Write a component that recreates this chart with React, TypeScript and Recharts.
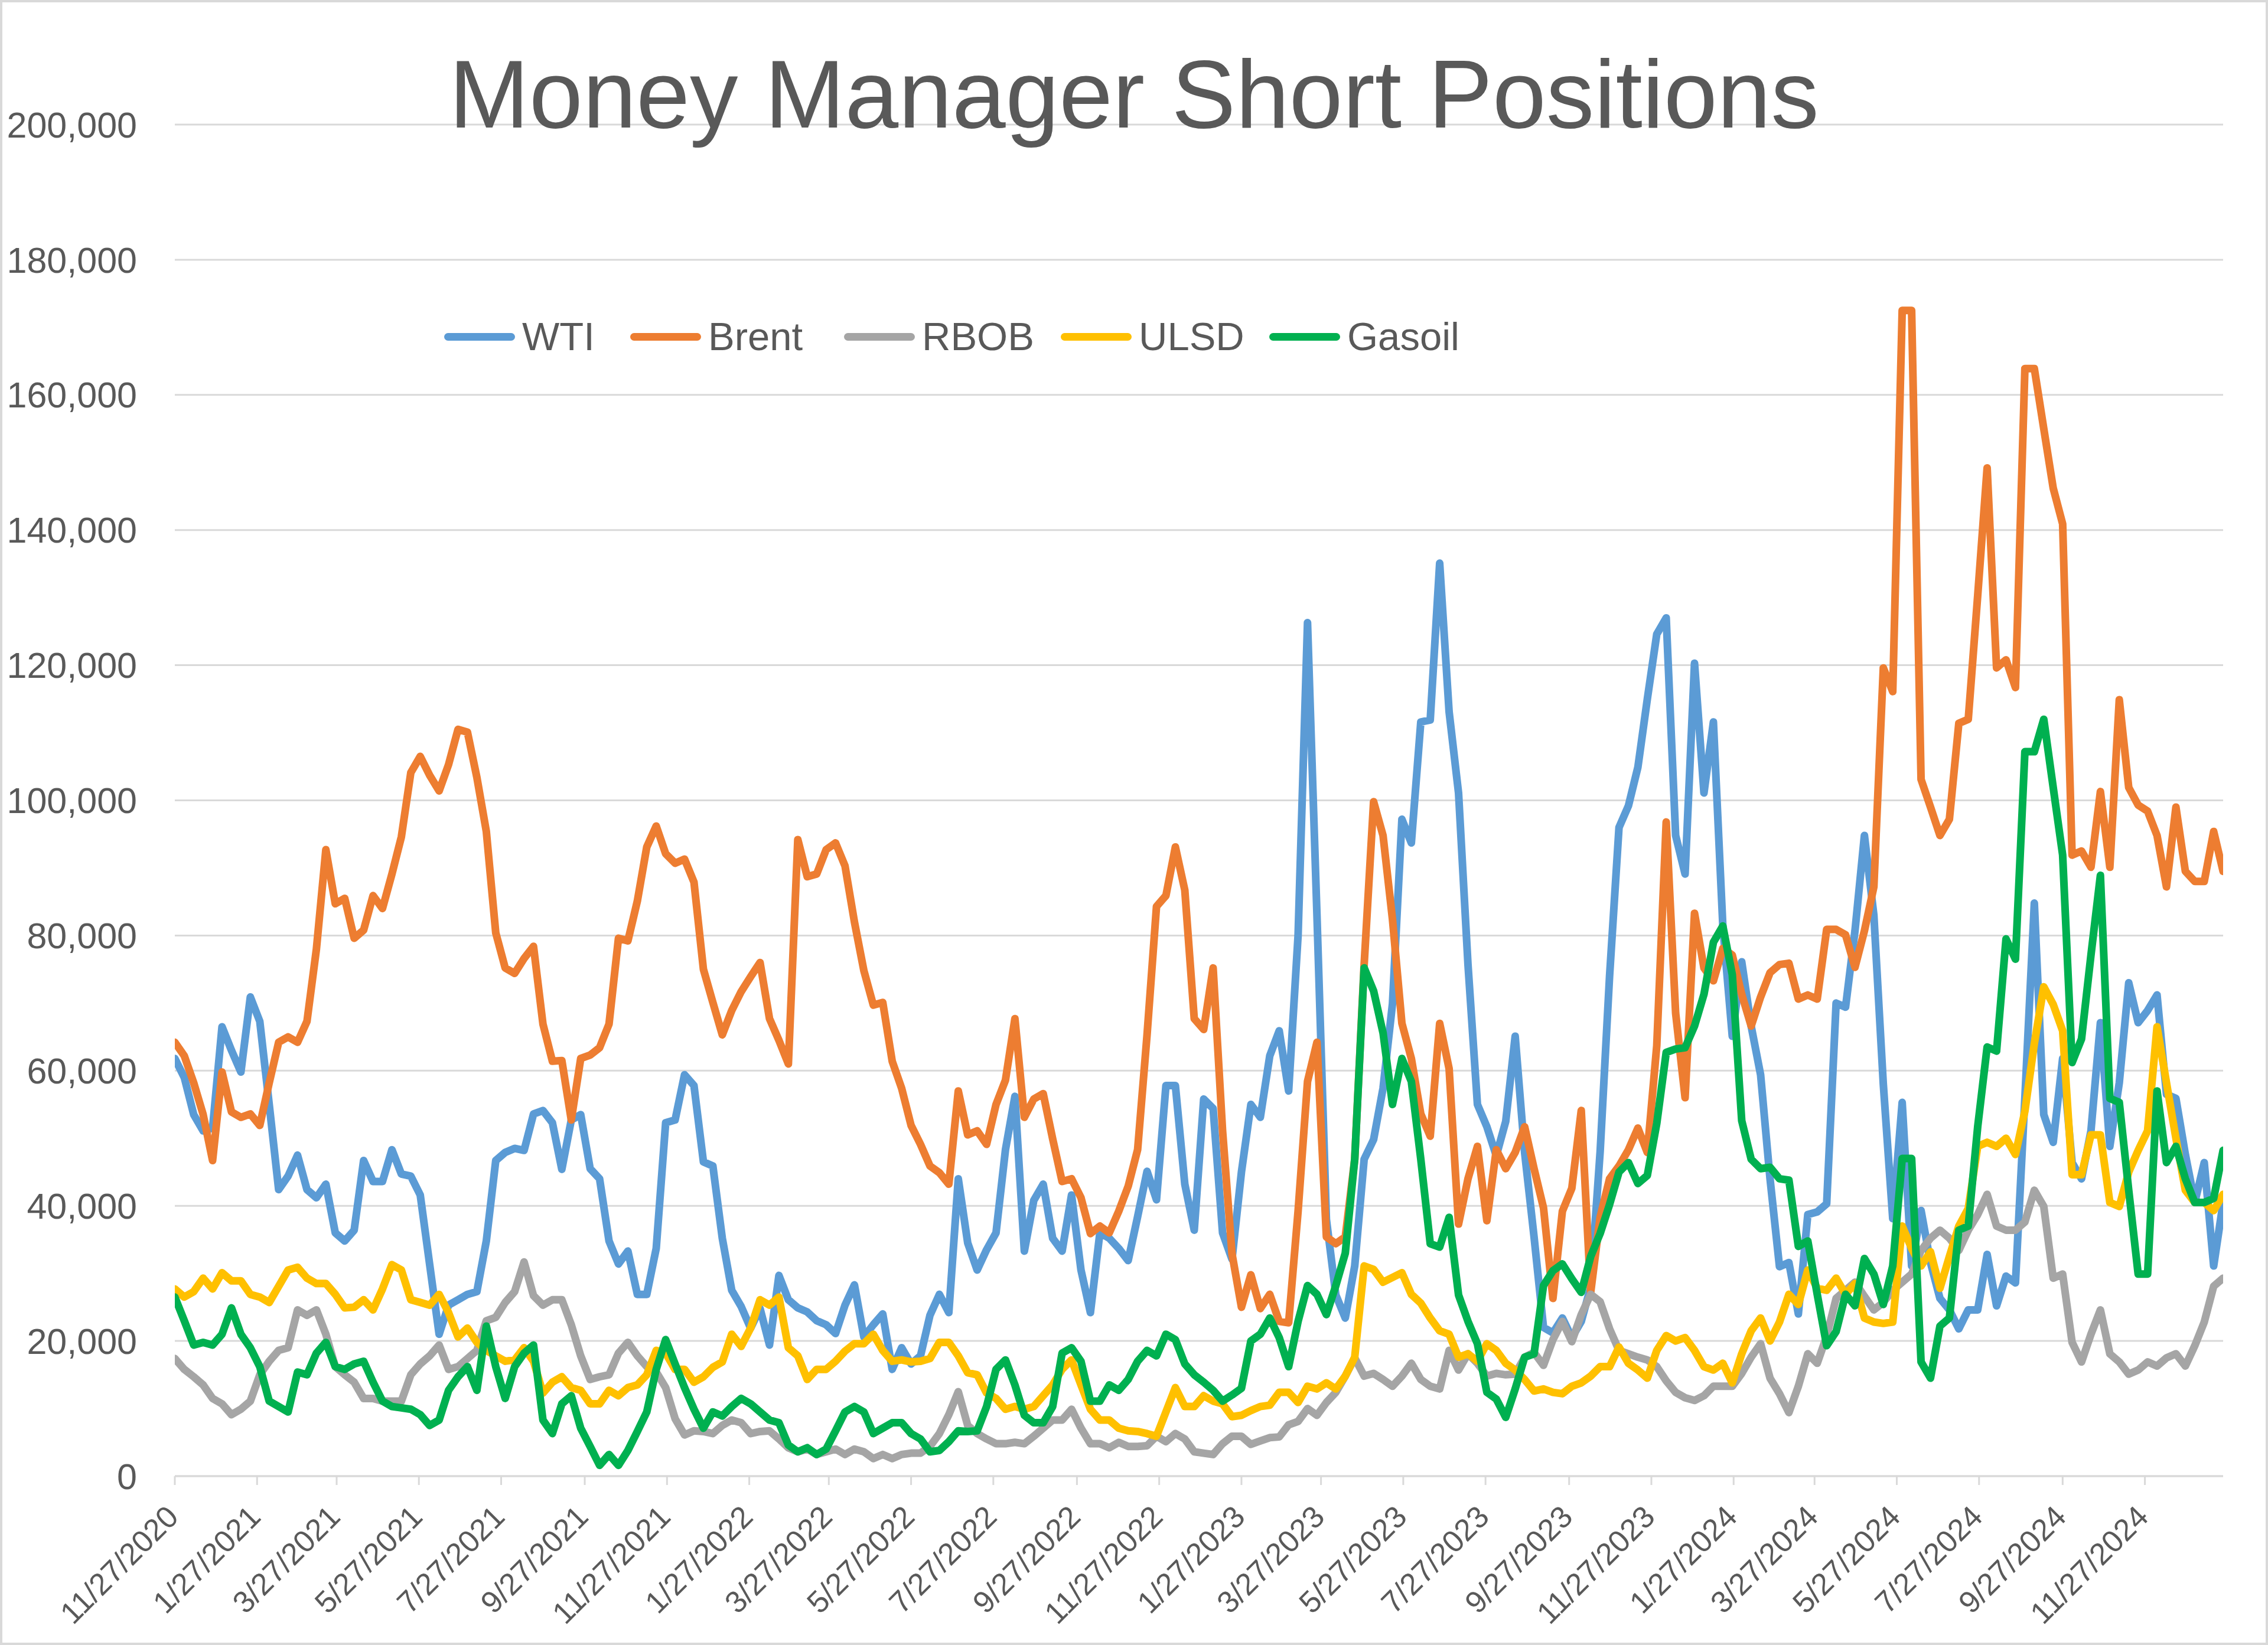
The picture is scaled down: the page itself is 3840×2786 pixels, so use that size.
import { LineChart, Line, XAxis, YAxis, CartesianGrid, Legend } from "recharts";

const FONT = "'Liberation Sans', Arial, sans-serif";
const TEXT_COLOR = "#595959";
const GRID_COLOR = "#D9D9D9";

const TITLE = "Money Manager Short Positions";

// weekly report dates start here
const FIRST_WEEK = "11/27/2020";
const WEEK_COUNT = 218;

const SERIES_NAMES = ["WTI", "Brent", "RBOB", "ULSD", "Gasoil"];
const SERIES_COLORS = ["#5B9BD5", "#ED7D31", "#A5A5A5", "#FFC000", "#00B050"];

const TICK_LABELS = [
  "11/27/2020", "1/27/2021", "3/27/2021", "5/27/2021", "7/27/2021", "9/27/2021",
  "11/27/2021", "1/27/2022", "3/27/2022", "5/27/2022", "7/27/2022", "9/27/2022",
  "11/27/2022", "1/27/2023", "3/27/2023", "5/27/2023", "7/27/2023", "9/27/2023",
  "11/27/2023", "1/27/2024", "3/27/2024", "5/27/2024", "7/27/2024", "9/27/2024",
  "11/27/2024",
];

const Y_TICKS = [0, 20000, 40000, 60000, 80000, 100000, 120000, 140000, 160000, 180000, 200000];

const wti = [
  61800, 59000, 53500, 51100, 51500, 66500, 63000, 59800, 70900, 67300,
  55000, 42400, 44400, 47500, 42400, 41200, 43200, 36000, 34800, 36400,
  46700, 43600, 43600, 48300, 44700, 44400, 41600, 31300, 21000, 25300,
  26100, 26900, 27300, 34800, 46700, 47900, 48500, 48200, 53600, 54100,
  52300, 45400, 52700, 53500, 45500, 44000, 34800, 31400, 33300, 26900,
  26900, 33700, 52300, 52700, 59400, 57800, 46500, 45900, 35200, 27500,
  25100, 21900, 24800, 19400, 29700, 26100, 24900, 24300, 23000, 22400,
  21100, 25300, 28300, 20600, 22400, 24000, 15800, 19000, 16600, 17800,
  23800, 26900, 24200, 44000, 34500, 30500, 33500, 36000, 48300, 56200,
  33300, 40800, 43200, 35200, 33300, 41600, 30500, 24200, 36000, 35200,
  33700, 31900, 38400, 45100, 40900, 57800, 57800, 43200, 36400, 55800,
  54400, 36000, 32100, 45000, 55000, 53100, 62200, 65900, 57000, 80000,
  126300, 83000, 38000, 26800, 23400, 31100, 46900, 49800, 57400, 69900,
  97200, 93700, 111600, 111900, 135100, 113100, 101100, 75700, 55000, 51700,
  47400, 52500, 65100, 47900, 35400, 22000, 21200, 23400, 20500, 22900,
  28000, 48000, 74000, 96000, 99200, 104900, 115000, 124600, 127000, 94800,
  89100, 120300, 101100, 111600, 81400, 65100, 76100, 66600, 59400, 44000,
  31000, 31600, 24000, 38700, 39100, 40300, 70000, 69400, 80700, 94800,
  83000, 58000, 38100, 55300, 31100, 39300, 31600, 26300, 24600, 21800,
  24600, 24600, 32800, 25200, 29600, 28600, 56000, 84800, 53500, 49400,
  61800, 46400, 44000, 51100, 67100, 48800, 58200, 73000, 67100, 68900,
  71200, 56500, 55900, 47600, 40500, 46400, 31100, 40500,
];

const brent = [
  64200, 62200, 58200, 53500, 46700, 59800, 53900, 53100, 53600, 51900,
  58200, 64200, 65000, 64200, 67300, 78000, 92700, 84700, 85500, 79600,
  80800, 85900, 84000, 89100, 94600, 104100, 106500, 103700, 101400, 105300,
  110500, 110100, 103400, 95400, 80400, 75200, 74400, 76600, 78400, 66900,
  61400, 61500, 52700, 61800, 62300, 63400, 66900, 79600, 79200, 85100,
  93100, 96200, 92100, 90700, 91300, 87900, 75000, 70100, 65300, 68900,
  71700, 73900, 76000, 67700, 64500, 61000, 94200, 88700, 89100, 92700,
  93700, 90300, 82000, 74800, 69700, 70100, 61400, 57400, 51900, 49100,
  45900, 44900, 43200, 57000, 50500, 51100, 49100, 55000, 58600, 67700,
  53100, 55800, 56600, 49900, 43600, 44000, 41200, 35900, 37000, 36000,
  39200, 42900, 48300, 65300, 84300, 85900, 93100, 86700, 67700, 66100,
  75200, 51100, 32900, 25000, 29800, 24800, 26900, 22900, 22700, 39200,
  58400, 64200, 35400, 34400, 35400, 46900, 75700, 99800, 94800, 82400,
  67000, 61800, 53600, 50300, 67000, 60300, 37300, 44000, 48800, 37800,
  48300, 45500, 47900, 51700, 45500, 39700, 26300, 39200, 42600, 54100,
  27200, 38300, 44000, 45900, 48300, 51500, 47900, 63700, 96800, 68500,
  56000, 83300, 75200, 73300, 78100, 77100, 71300, 66600, 70900, 74500,
  75700, 75900, 70600, 71200, 70600, 80900, 80900, 80100, 75300, 80700,
  87200, 119600, 116100, 172500, 172500, 103100, 99000, 94800, 97200, 111400,
  112000, 130300, 149200, 119600, 120800, 116700, 163900, 163900, 155000, 146200,
  140900, 91900, 92500, 90100, 101300, 90100, 114900, 101900, 99300, 98400,
  94800, 87200, 99000, 89500, 88000, 88000, 95400, 89500,
];

const rbob = [
  17400, 15800, 14700, 13500, 11500, 10700, 9100, 9900, 11100, 15000,
  17000, 18600, 19000, 24600, 23800, 24600, 21000, 16200, 15000, 13900,
  11500, 11500, 11100, 11100, 11100, 15000, 16600, 17800, 19400, 15800,
  16200, 17400, 18600, 23000, 23500, 25700, 27300, 31700, 26700, 25300,
  26100, 26100, 22400, 17800, 14300, 14700, 15000, 18200, 19800, 17800,
  16200, 15400, 13100, 8500, 6100, 6700, 6600, 6300, 7500, 8300,
  7900, 6300, 6600, 6700, 5500, 4200, 3600, 4000, 3200, 3600,
  4000, 3200, 4000, 3600, 2600, 3200, 2600, 3200, 3400, 3400,
  4400, 6300, 9100, 12500, 7500, 6300, 5500, 4800, 4800, 5000,
  4800, 5900, 7100, 8300, 8300, 9900, 7100, 4800, 4800, 4200,
  5000, 4400, 4400, 4500, 5900, 5100, 6300, 5500, 3600, 3400,
  3200, 4800, 5900, 5900, 4700, 5200, 5700, 5800, 7600, 8100,
  10000, 9000, 10900, 12400, 14800, 17500, 14800, 15200, 14300, 13300,
  14800, 16700, 14300, 13300, 12900, 18600, 15700, 18100, 16700, 14800,
  15200, 15000, 15100, 17600, 18300, 16400, 20200, 22900, 19900, 23900,
  26900, 25800, 21800, 18600, 18100, 17600, 17200, 16200, 14100, 12400,
  11600, 11200, 11900, 13300, 13300, 13300, 15200, 17600, 19600, 14500,
  12200, 9400, 13300, 18100, 16700, 20700, 26300, 27500, 28700, 26600,
  24600, 25700, 27500, 28700, 29900, 33400, 35200, 36400, 35200, 33400,
  36400, 38700, 41700, 37000, 36400, 36400, 37600, 42300, 39900, 29300,
  29900, 19800, 16900, 21000, 24600, 18100, 16900, 15100, 15700, 16900,
  16300, 17500, 18100, 16300, 19300, 22800, 28100, 29300,
];

const ulsd = [
  27700, 26500, 27300, 29300, 27700, 30100, 28900, 28900, 26900, 26500,
  25700, 28100, 30500, 30900, 29300, 28500, 28500, 26900, 24900, 25000,
  26100, 24600, 27700, 31300, 30500, 26100, 25700, 25300, 26900, 24200,
  20600, 21900, 19800, 18600, 17800, 17000, 17200, 19000, 17000, 12300,
  13900, 14700, 13100, 12700, 10700, 10700, 12700, 11900, 13100, 13500,
  15000, 18600, 18200, 15800, 15800, 13900, 14700, 16100, 16900, 21000,
  19200, 21900, 26100, 25300, 26500, 19000, 17800, 14300, 15800, 15800,
  17000, 18500, 19600, 19600, 21000, 18600, 17000, 17200, 16900, 17000,
  17400, 19800, 19800, 17800, 15300, 15000, 12300, 11500, 9900, 10300,
  9900, 10300, 11900, 13500, 15800, 17200, 13500, 9900, 8300, 8300,
  7100, 6700, 6600, 6300, 5900, 9500, 13100, 10300, 10300, 11900,
  11100, 10700, 8800, 9000, 9700, 10300, 10500, 12400, 12400, 10900,
  13300, 12900, 13800, 12900, 14800, 17600, 31100, 30600, 28700, 29400,
  30100, 26900, 25600, 23400, 21500, 21000, 17600, 18100, 17000, 19600,
  18600, 16700, 15700, 14300, 12600, 12900, 12400, 12200, 13300, 13800,
  14800, 16200, 16200, 19100, 16700, 15700, 14500, 18600, 20800, 20000,
  20500, 18600, 16200, 15700, 16700, 13800, 18100, 21500, 23400, 20000,
  22800, 26900, 25400, 30500, 27800, 27500, 29300, 26900, 28500, 23400,
  22800, 22600, 22800, 37000, 33700, 31100, 33200, 27800, 32500, 37000,
  39600, 48800, 49400, 48800, 50000, 47600, 54000, 64000, 72400, 69800,
  65900, 44600, 44600, 50500, 50500, 40500, 39900, 45000, 48200, 51100,
  66500, 58200, 50000, 42300, 40500, 40500, 39300, 41700,
];

const gasoil = [
  26500, 23000, 19400, 19800, 19400, 21000, 24900, 21000, 19000, 16200,
  11100, 10300, 9500, 15400, 15000, 18200, 19800, 16200, 15800, 16600,
  17000, 13900, 11100, 10300, 10100, 9900, 9100, 7500, 8300, 12700,
  14700, 16200, 12700, 22200, 16200, 11500, 16200, 18200, 19400, 8300,
  6300, 10700, 11900, 7100, 4400, 1600, 3200, 1600, 3800, 6600,
  9500, 15800, 20200, 16600, 13100, 9900, 7100, 9500, 8900, 10300,
  11500, 10700, 9500, 8300, 7900, 4600, 3600, 4200, 3200, 4000,
  6700, 9500, 10300, 9500, 6300, 7100, 7900, 7900, 6300, 5500,
  3600, 3800, 5100, 6700, 6600, 6700, 10300, 15800, 17200, 13500,
  9000, 7900, 7900, 10300, 18200, 19000, 17000, 11100, 11100, 13500,
  12700, 14300, 17000, 18600, 17800, 21000, 20200, 16600, 15000, 13900,
  12700, 11100, 12000, 13000, 20000, 21000, 23400, 20500, 16200, 22900,
  28200, 26900, 23900, 28200, 33000, 46900, 75200, 71800, 65600, 55000,
  61800, 58400, 46900, 34400, 33900, 38300, 26800, 22900, 19600, 12400,
  11400, 8700, 12900, 17600, 18100, 28200, 30400, 31400, 29200, 27200,
  32500, 35900, 40200, 45000, 46400, 43300, 44500, 52200, 62700, 63200,
  63400, 66600, 71300, 79000, 81400, 74200, 52600, 46900, 45500, 45700,
  44000, 43800, 34000, 34800, 26900, 19300, 21400, 26900, 25200, 32200,
  29900, 25400, 31100, 47000, 47000, 16900, 14500, 22200, 23400, 36400,
  37000, 51700, 63500, 62900, 79500, 76500, 107200, 107200, 112000, 101900,
  91900, 61200, 64700, 77100, 88900, 55900, 55300, 42300, 29900, 29900,
  57000, 46400, 48800, 44000, 40500, 40500, 41100, 48200,
];

const SERIES_VALUES = [wti, brent, rbob, ulsd, gasoil];

const DAY = 24 * 60 * 60 * 1000;

function parseDate(s: string) {
  const [m, d, y] = s.split("/").map(Number);
  return Date.UTC(y, m - 1, d);
}

function formatDate(t: number) {
  const d = new Date(t);
  return `${d.getUTCMonth() + 1}/${d.getUTCDate()}/${d.getUTCFullYear()}`;
}

const startTime = parseDate(FIRST_WEEK);
const dates = Array.from({ length: WEEK_COUNT }, (_, i) => startTime + i * 7 * DAY);
const tickValues = TICK_LABELS.map(parseDate);

const chartData = dates.map((date, i) => {
  const row: any = { date };
  SERIES_NAMES.forEach((name, k) => {
    row[name] = SERIES_VALUES[k][i];
  });
  return row;
});

// legend sample left edges, px
const LEGEND_LEFT = [752, 1067, 1429, 1796, 2149];
const LEGEND_MID_Y = 570;

function DateTick(props: any) {
  const { x, y, payload } = props;
  return (
    <g transform={`translate(${x + 9},${y + 55})`}>
      <text
        textAnchor="end"
        transform="rotate(-45)"
        fill={TEXT_COLOR}
        fontSize={52}
        fontFamily={FONT}
      >
        {formatDate(payload.value)}
      </text>
    </g>
  );
}

function LegendRow() {
  return (
    <div style={{ position: "relative", width: 3840, height: 0 }}>
      {SERIES_NAMES.map((name, i) => (
        <div
          key={name}
          style={{
            position: "absolute",
            left: LEGEND_LEFT[i],
            top: LEGEND_MID_Y - 40,
            height: 80,
            display: "flex",
            alignItems: "center",
            whiteSpace: "nowrap",
          }}
        >
          <span
            style={{
              display: "inline-block",
              width: 120,
              height: 13,
              borderRadius: 7,
              background: SERIES_COLORS[i],
            }}
          />
          <span
            style={{
              marginLeft: 12,
              fontSize: 67,
              lineHeight: "80px",
              fontFamily: FONT,
              color: TEXT_COLOR,
            }}
          >
            {name}
          </span>
        </div>
      ))}
    </div>
  );
}

export default function App() {
  return (
    <div
      style={{
        position: "absolute",
        left: 0,
        top: 0,
        width: 3840,
        height: 2786,
        background: "#FFFFFF",
        overflow: "hidden",
      }}
    >
      <LineChart
        width={3840}
        height={2786}
        data={chartData}
        margin={{ top: 211, right: 76, bottom: 0, left: 0 }}
      >
        <CartesianGrid vertical={false} stroke={GRID_COLOR} strokeWidth={3} />

        <XAxis
          dataKey="date"
          type="number"
          domain={[dates[0], dates[dates.length - 1]]}
          ticks={tickValues}
          interval={0}
          height={286}
          tickSize={15}
          tickLine={{ stroke: GRID_COLOR, strokeWidth: 3 }}
          axisLine={{ stroke: GRID_COLOR, strokeWidth: 3 }}
          tick={<DateTick />}
          allowDataOverflow
        />

        <YAxis
          width={296}
          domain={[0, 200000]}
          ticks={Y_TICKS}
          interval={0}
          axisLine={false}
          tickLine={false}
          tickSize={0}
          tickMargin={64}
          tickFormatter={(v: number) => v.toLocaleString("en-US")}
          tick={{ fill: TEXT_COLOR, fontSize: 61, fontFamily: FONT }}
        />

        <Legend
          layout="horizontal"
          verticalAlign="middle"
          align="center"
          wrapperStyle={{ left: 0, top: 0, width: 3840, height: 0 }}
          content={() => <LegendRow />}
        />

        {SERIES_NAMES.map((name, i) => (
          <Line
            key={name}
            type="linear"
            dataKey={name}
            stroke={SERIES_COLORS[i]}
            strokeWidth={13}
            strokeLinejoin="round"
            strokeLinecap="round"
            dot={false}
            activeDot={false}
            isAnimationActive={false}
          />
        ))}
      </LineChart>

      <div
        style={{
          position: "absolute",
          left: 0,
          top: 78,
          width: 3840,
          textAlign: "center",
          fontFamily: FONT,
          fontSize: 163,
          lineHeight: "163px",
          color: TEXT_COLOR,
          pointerEvents: "none",
        }}
      >
        {TITLE}
      </div>

      <div
        style={{
          position: "absolute",
          left: 0,
          top: 0,
          width: 3840,
          height: 2786,
          boxSizing: "border-box",
          border: `4px solid ${GRID_COLOR}`,
          pointerEvents: "none",
        }}
      />
    </div>
  );
}
